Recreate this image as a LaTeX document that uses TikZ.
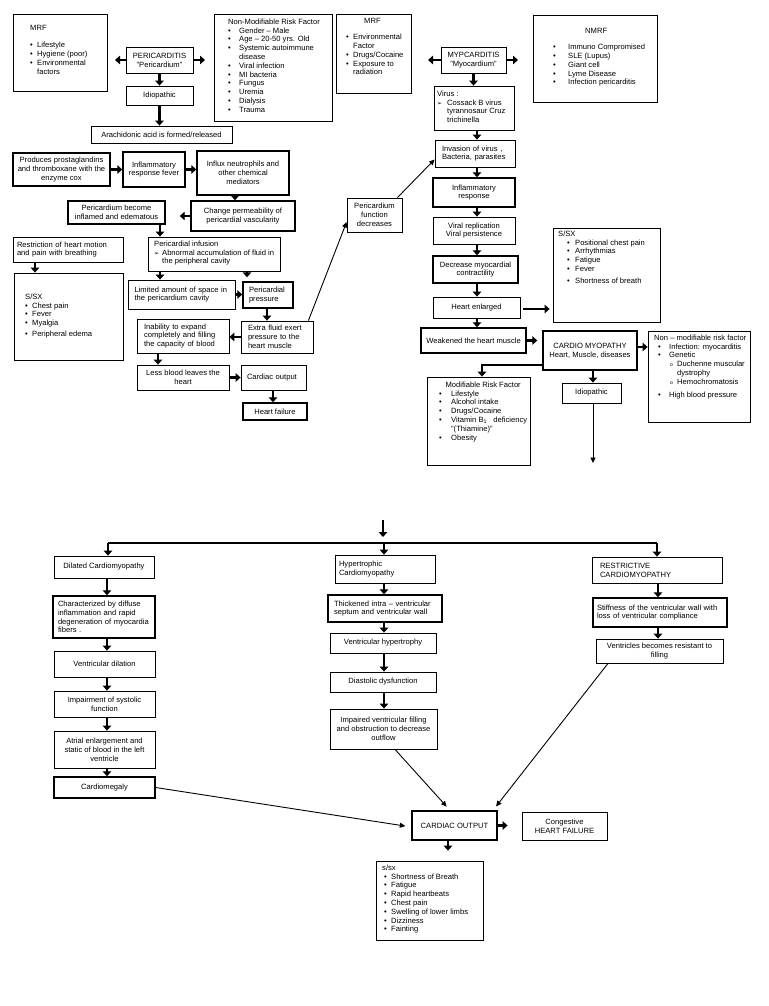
\documentclass[tikz,border=0pt]{standalone}
\usepackage{fontspec}
\setmainfont{Liberation Sans}
\newfontfamily\dvfont{DejaVu Sans}
\usetikzlibrary{arrows.meta}
\newcommand\fs{\fontsize{7.6}{8.8}\selectfont}
\newcommand\Bul[1][8pt]{\makebox[#1][l]{\textbullet}}
\newcommand\Ind[1][8pt]{\hspace*{#1}}
\newcommand\Arw[1][10pt]{\makebox[#1][l]{\dvfont\fontsize{6}{6}\selectfont\symbol{"27A2}}}
\newcommand\Sbul[1][8pt]{\makebox[#1][l]{\fontsize{5}{5}\selectfont o}}
\begin{document}
\begin{tikzpicture}[x=1pt,y=-1pt,
  bx/.style={draw, line width=0.8pt, inner sep=0pt, font=\fs, align=center},
  tbx/.style={bx, line width=1.4pt},
  wh/.style 2 args={minimum width=#1pt, minimum height=#2pt},
  lst/.style={font=\fs, align=left, inner sep=0pt, anchor=north west},
  blk/.style={line width=2.7pt, -{Triangle[length=5pt,width=8.5pt]}},
  thn/.style={line width=0.9pt, -{Triangle[length=5.5pt,width=5pt]}}]
\fill[white] (0,0) rectangle (768,1006);
\useasboundingbox (0,0) rectangle (768,1006);

% ---------- top row ----------
\node[bx, wh={94}{77}] (mrf1) at (60,52.5) {};
\node[lst] (mrf1t) at (30,25.5) {MRF\\[8pt]\Bul[7pt]Lifestyle\\\Bul[7pt]Hygiene (poor)\\\Bul[7pt]Environmental\\\Ind[7pt]factors};
\node[bx, wh={67}{26}] (peri) at (159.5,60) {PERICARDITIS\\"Pericardium"};
\node[bx, wh={67}{19}] (idio1) at (159.5,95.5) {Idiopathic};
\node[bx, wh={141}{17}] (arach) at (161.5,134.5) {Arachidonic acid is formed/released};
\node[bx, wh={118}{107}] (nonmod1) at (273,67.5) {};
\node[lst] (nonmod1t) at (228,18.5) {Non-Modifiable Risk Factor\\\Bul[11pt]Gender -- Male\\\Bul[11pt]Age -- 20-50 yrs. Old\\\Bul[11pt]Systemic autoimmune\\\Ind[11pt]disease\\\Bul[11pt]Viral infection\\\Bul[11pt]MI bacteria\\\Bul[11pt]Fungus\\\Bul[11pt]Uremia\\\Bul[11pt]Dialysis\\\Bul[11pt]Trauma};
\node[bx, wh={75}{79}] (mrf2) at (373.5,53.5) {};
\node[lst] (mrf2t) at (346,18.5) {\Ind[18pt]MRF\\[7pt]\Bul[7pt]Environmental\\\Ind[7pt]Factor\\\Bul[7pt]Drugs/Cocaine\\\Bul[7pt]Exposure to\\\Ind[7pt]radiation};
\node[bx, wh={65}{26}] (myo) at (473.5,60) {MYPCARDITIS\\"Myocardium"};
\node[bx, wh={80}{44}] (virus) at (474,108) {};
\node[lst] (virust) at (437,90.5) {Virus :\\\Arw Cossack B virus\\\Ind[10pt]tyrannosaur Cruz\\\Ind[10pt]trichinella};
\node[bx, wh={124}{87}] (nmrf) at (595,58.5) {};
\node[lst] (nmrft) at (553,28.5) {\Ind[32pt]NMRF\\[7pt]\Bul[15pt]Immuno Compromised\\\Bul[15pt]SLE (Lupus)\\\Bul[15pt]Giant cell\\\Bul[15pt]Lyme Disease\\\Bul[15pt]Infection pericarditis};

\coordinate (pl) at (115,60);
\coordinate (pr) at (205,60);
\coordinate (ml) at (428,60);
\coordinate (mr) at (518,60);
\draw[blk] (peri.west) -- (pl);
\draw[blk] (peri.east) -- (pr);
\draw[blk] (myo.west) -- (ml);
\draw[blk] (myo.east) -- (mr);
\draw[blk] (peri) -- (idio1);
\draw[blk] (idio1.south) -- (idio1.south |- arach.north);
\draw[blk] (myo.south) -- (myo.south |- virus.north);

% ---------- pericarditis chain ----------
\node[tbx, wh={97}{33}] (prod) at (61.5,169.5) {Produces prostaglandins\\and thromboxane with the\\enzyme cox};
\node[tbx, wh={62}{35}] (infl1) at (154,169.5) {Inflammatory\\response fever};
\node[tbx, wh={92}{44}] (influx) at (243,173) {Influx neutrophils and\\other chemical\\mediators};
\node[tbx, wh={104}{30}] (change) at (243,216) {Change permeability of\\pericardial vascularity};
\node[tbx, wh={97}{23}] (pbec) at (116.5,212.5) {Pericardium become\\inflamed and edematous};
\node[bx, wh={132}{34}] (infus) at (214,254) {};
\node[lst] (infust) at (154,240.5) {Pericardial infusion\\\Arw[8pt]Abnormal accumulation of fluid in\\\Ind[8pt]the peripheral cavity};
\node[bx, wh={110}{25}, text width=102pt, align=left] (restr) at (68,249.5) {Restriction of heart motion\\and pain with breathing};
\node[bx, wh={109}{87}] (ssx1) at (68.5,316.5) {};
\node[lst] (ssx1t) at (25,293.5) {S/SX\\\Bul[7pt]Chest pain\\\Bul[7pt]Fever\\\Bul[7pt]Myalgia\\[2pt]\Bul[7pt]Peripheral edema};
\node[bx, wh={107}{29}, text width=94pt, align=left] (limited) at (181.5,294.5) {Limited amount of space in\\the pericardium cavity};
\node[tbx, wh={50}{26}, text width=38pt, align=left] (ppress) at (268,295) {Pericardial\\pressure};
\node[bx, wh={72}{32}, text width=58pt, align=left] (extra) at (277,337) {Extra fluid exert\\pressure to the\\heart muscle};
\node[bx, wh={92}{34}, text width=78pt, align=left] (inab) at (183,336) {Inability to expand\\completely and filling\\the capacity of blood};
\node[bx, wh={92}{25}] (less) at (183,377.5) {Less blood leaves the\\heart};
\node[bx, wh={65}{25}, text width=53pt, align=left] (cout1) at (273.5,377.5) {Cardiac output};
\node[tbx, wh={64}{17}] (hf) at (275,411.5) {Heart failure};
\node[bx, wh={55}{34}] (pfunc) at (374.5,215) {Pericardium\\function\\decreases};

\draw[blk] (prod.east) -- (infl1.west);
\draw[blk] (infl1.east) -- (infl1.east -| influx.west);
\draw[blk] ([xshift=-8pt]influx.south) -- ([xshift=-8pt]change.north);
\draw[blk, shorten >=14pt] (change.west) -- (change.west -| pbec.east);
\draw[blk] ([xshift=43.5pt]pbec.south) -- ([xshift=-54pt]infus.north);
\draw[blk] ([xshift=-33pt]restr.south) -- ([xshift=-33.5pt]ssx1.north);
\draw[blk] ([xshift=-54pt]infus.south) -- ([xshift=-21.5pt]limited.north);
\draw[blk, shorten >=4pt] ([xshift=33pt]infus.south) -- ([xshift=-21pt]ppress.north);
\draw[blk] (limited.east) -- (limited.east -| ppress.west);
\draw[blk] ([xshift=-1pt]ppress.south) -- ([xshift=-10pt]extra.north);
\draw[blk] (extra.west) -- (extra.west -| inab.east);
\draw[blk] ([xshift=-25pt]inab.south) -- ([xshift=-25pt]less.north);
\draw[blk] (less.east) -- (cout1.west);
\draw[blk] ([xshift=-0.5pt]cout1.south) -- ([xshift=-2pt]hf.north);
\draw[thn] ([xshift=-5pt]extra.north east) -- ([yshift=-7pt]pfunc.west);

% ---------- myocarditis chain ----------
\node[bx, wh={80}{27}, text width=66pt, align=left] (inv) at (475,153.5) {Invasion of virus ,\\Bacteria, parasites};
\node[tbx, wh={82}{29}] (infl2) at (474,192.5) {Inflammatory\\response};
\node[bx, wh={82}{27}] (vrep) at (474,230.5) {Viral replication\\Viral persistence};
\node[tbx, wh={85}{27}] (decr) at (475.5,269.5) {Decrease myocardial\\contractility};
\node[bx, wh={87}{21}] (henl) at (476.5,307.5) {Heart enlarged};
\node[tbx, wh={105}{25}] (weak) at (473.5,340.5) {Weakened the heart muscle};
\node[bx, wh={107}{94}] (ssx2) at (606.5,275) {};
\node[lst] (ssx2t) at (558,230.5) {S/SX\\\Ind[9pt]\Bul[8pt]Positional chest pain\\\Ind[9pt]\Bul[8pt]Arrhythmias\\\Ind[9pt]\Bul[8pt]Fatigue\\\Ind[9pt]\Bul[8pt]Fever\\[3pt]\Ind[9pt]\Bul[8pt]Shortness of breath};
\node[tbx, wh={94}{39}] (cmyo) at (590,350.5) {CARDIO MYOPATHY\\Heart, Muscle, diseases};
\node[bx, wh={102}{91}] (nmr2) at (699,376.5) {};
\node[lst] (nmr2t) at (654,334.5) {Non -- modifiable risk factor\\\Ind[4pt]\Bul[11pt]Infection: myocarditis\\\Ind[4pt]\Bul[11pt]Genetic\\\Ind[16pt]\Sbul[7pt]Duchenne muscular\\\Ind[23pt]dystrophy\\\Ind[16pt]\Sbul[7pt]Hemochromatosis\\[4pt]\Ind[4pt]\Bul[11pt]High blood pressure};
\node[bx, wh={103}{88}] (modr) at (478.5,421) {};
\node[lst] (modrt) at (439,381.5) {\makebox[88pt][c]{Modifiable Risk Factor}\\\Bul[12pt]Lifestyle\\\Bul[12pt]Alcohol intake\\\Bul[12pt]Drugs/Cocaine\\\Bul[12pt]\makebox[76pt][l]{Vitamin B\textsubscript{1}\hfill deficiency}\\\Ind[12pt]"(Thiamine)"\\\Bul[12pt]Obesity};
\node[bx, wh={59}{20}] (idio2) at (591.5,393) {Idiopathic};
\coordinate (idend) at (593,463);

\draw[thn] ([xshift=-5pt]pfunc.north east) -- ([yshift=-6pt]inv.west);
\draw[blk] ([xshift=3pt]virus.south) -- ([xshift=2pt]inv.north);
\draw[blk] ([xshift=2pt]inv.south) -- ([xshift=3pt]infl2.north);
\draw[blk] ([xshift=3pt]infl2.south) -- ([xshift=3pt]vrep.north);
\draw[blk] ([xshift=3pt]vrep.south) -- ([xshift=1.5pt]decr.north);
\draw[blk] ([xshift=1.5pt]decr.south) -- ([xshift=0.5pt]henl.north);
\draw[blk] ([xshift=0.5pt]henl.south) -- ([xshift=3.5pt]weak.north);
\draw[blk, shorten >=3pt] ([xshift=3pt,yshift=-1.5pt]henl.east) -- ([yshift=-1.5pt]henl.east -| ssx2.west);
\draw[blk, shorten >=5pt] (weak.east) -- (weak.east -| cmyo.west);
\draw[blk] ([yshift=3.5pt]cmyo.east) -- ([yshift=3.5pt]cmyo.east -| nmr2.west);
\draw[blk] ([yshift=-14.5pt]cmyo.west) -| ([xshift=3.5pt]modr.north);
\draw[blk] ([xshift=3pt]cmyo.south) -- ([xshift=1.5pt]idio2.north);
\draw[thn] ([xshift=1.5pt]idio2.south) -- (idend);

% ---------- lower section ----------
\coordinate (bigtop) at (383,520);
\coordinate (bigbot) at (383,537);
\coordinate (hl) at (108,543);
\coordinate (hm) at (384,543);
\coordinate (hr) at (657,543);
\draw[blk] (bigtop) -- (bigbot);
\draw[line width=1.4pt] (hl) -- (hr);

\node[bx, wh={100}{22}] (dil) at (104,567) {Dilated Cardiomyopathy};
\node[tbx, wh={102}{42}, text width=92pt, align=left] (char) at (104,617) {Characterized by diffuse\\inflammation and rapid\\degeneration of myocardia\\fibers .};
\node[bx, wh={101}{26}] (vdil) at (104.5,664) {Ventricular dilation};
\node[bx, wh={101}{26}] (imp) at (104.5,704) {Impairment of systolic\\function};
\node[bx, wh={101}{37}] (atr) at (104.5,749.5) {Atrial enlargement and\\static of blood in the left\\ventricle};
\node[tbx, wh={101}{21}] (cmeg) at (104.5,787.5) {Cardiomegaly};

\node[bx, wh={100}{28}, text width=92pt, align=left] (hyp) at (385,569) {Hypertrophic\\Cardiomyopathy};
\node[tbx, wh={114}{27}, text width=102pt, align=left] (thk) at (385,608.5) {Thickened intra -- ventricular\\septum and ventricular wall};
\node[bx, wh={106}{20}] (vhyp) at (383,643) {Ventricular hypertrophy};
\node[bx, wh={106}{20}] (dias) at (383,682) {Diastolic dysfunction};
\node[bx, wh={107}{40}] (impf) at (383.5,729) {Impaired ventricular filling\\and obstruction to decrease\\outflow};

\node[bx, wh={130}{26}, text width=114pt, align=left] (rest) at (657,570) {RESTRICTIVE\\CARDIOMYOPATHY};
\node[tbx, wh={134}{29}, text width=126pt, align=left] (stf) at (660,612.5) {Stiffness of the ventricular wall with\\loss of ventricular compliance};
\node[bx, wh={127}{24}] (vres) at (659.5,651) {Ventricles becomes resistant to\\filling};

\node[tbx, wh={85}{29}] (cout2) at (454.5,825.5) {CARDIAC OUTPUT};
\node[bx, wh={85}{28}] (chf) at (564.5,826) {Congestive\\HEART FAILURE};
\node[bx, wh={107}{79}] (ssx3) at (429.5,900.5) {};
\node[lst] (ssx3t) at (382,864.5) {s/sx\\\Ind[2pt]\Bul[7pt]Shortness of Breath\\\Ind[2pt]\Bul[7pt]Fatigue\\\Ind[2pt]\Bul[7pt]Rapid heartbeats\\\Ind[2pt]\Bul[7pt]Chest pain\\\Ind[2pt]\Bul[7pt]Swelling of lower limbs\\\Ind[2pt]\Bul[7pt]Dizziness\\\Ind[2pt]\Bul[7pt]Fainting};

\draw[blk] (hl) -- ([xshift=4pt]dil.north);
\draw[blk] (hm) -- ([xshift=-1pt]hyp.north);
\draw[blk] (hr) -- (rest.north);
\draw[blk] ([xshift=3pt]dil.south) -- ([xshift=3pt]char.north);
\draw[blk] ([xshift=3pt]char.south) -- ([xshift=2.5pt]vdil.north);
\draw[blk] ([xshift=2.5pt]vdil.south) -- ([xshift=2.5pt]imp.north);
\draw[blk] ([xshift=2.5pt]imp.south) -- ([xshift=2.5pt]atr.north);
\draw[blk] ([xshift=2.5pt]atr.south) -- ([xshift=2.5pt]cmeg.north);
\draw[blk] ([xshift=-1pt]hyp.south) -- ([xshift=-1pt]thk.north);
\draw[blk] ([xshift=-1pt]thk.south) -- ([xshift=1pt]vhyp.north);
\draw[blk] ([xshift=1pt]vhyp.south) -- ([xshift=1pt]dias.north);
\draw[blk] ([xshift=1pt]dias.south) -- ([xshift=0.5pt]impf.north);
\draw[blk] ([xshift=1pt]rest.south) -- ([xshift=-2pt]stf.north);
\draw[blk] ([xshift=-2pt]stf.south) -- ([xshift=-1.5pt]vres.north);
\draw[blk, shorten >=14pt] (cout2.east) -- (cout2.east -| chf.west);
\draw[blk, shorten >=10pt] ([xshift=-6.5pt]cout2.south) -- ([xshift=18.5pt]ssx3.north);
\draw[thn, shorten >=6pt] (cmeg.east) -- ([yshift=-1.5pt]cout2.west);
\draw[thn, shorten >=5pt] ([xshift=11.5pt]impf.south) -- ([xshift=-4.5pt]cout2.north);
\draw[thn, shorten >=5pt] ([xshift=-51.5pt]vres.south) -- ([xshift=38.5pt]cout2.north);
\end{tikzpicture}
\end{document}
